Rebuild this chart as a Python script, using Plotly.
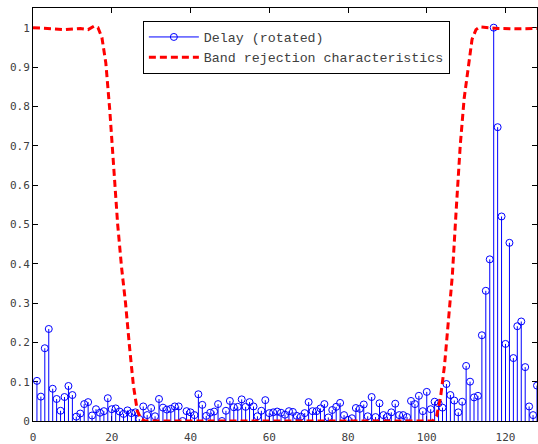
import plotly.graph_objects as go

# ---- data ----
delay_x = list(range(1, 129))
delay_y = [
    0.102, 0.062, 0.185, 0.234, 0.082, 0.056, 0.026, 0.061, 0.089, 0.066,
    0.011, 0.019, 0.043, 0.048, 0.014, 0.030, 0.021, 0.025, 0.058, 0.030,
    0.032, 0.024, 0.018, 0.027, 0.020, 0.022, 0.005, 0.037, 0.015, 0.033,
    0.012, 0.056, 0.034, 0.029, 0.031, 0.037, 0.037, 0.000, 0.025, 0.022,
    0.015, 0.068, 0.041, 0.013, 0.021, 0.024, 0.043, 0.000, 0.026, 0.051,
    0.035, 0.036, 0.055, 0.036, 0.048, 0.037, 0.012, 0.026, 0.053, 0.020,
    0.022, 0.024, 0.021, 0.016, 0.025, 0.023, 0.013, 0.011, 0.020, 0.048,
    0.025, 0.025, 0.032, 0.043, 0.009, 0.028, 0.036, 0.046, 0.015, 0.003,
    0.007, 0.033, 0.031, 0.042, 0.012, 0.061, 0.010, 0.045, 0.015, 0.011,
    0.022, 0.044, 0.015, 0.015, 0.010, 0.051, 0.043, 0.064, 0.025, 0.074,
    0.030, 0.049, 0.045, 0.034, 0.094, 0.066, 0.052, 0.022, 0.049, 0.140,
    0.100, 0.060, 0.064, 0.218, 0.331, 0.411, 1.000, 0.747, 0.520, 0.196,
    0.453, 0.160, 0.241, 0.253, 0.137, 0.037, 0.015, 0.090,
]

band_x = [0, 4, 8, 12, 14, 15.5, 16.5, 17.5, 18.5, 19.5, 20.5, 21.5, 22.5,
          23.5, 24.5, 25.5, 26.5, 27.5, 28.5, 101.5, 102.5, 103.5, 104.5,
          105.5, 106.5, 107.5, 108.5, 109.5, 110.5, 111.5, 112.5, 113.5,
          118, 123, 128]
band_y = [1.0, 0.997, 0.995, 0.998, 0.995, 1.004, 1.0, 0.975, 0.91, 0.79,
          0.63, 0.5, 0.39, 0.3, 0.19, 0.09, 0.025, 0.005, 0.0, 0.0, 0.012,
          0.06, 0.14, 0.25, 0.37, 0.54, 0.70, 0.82, 0.90, 0.97, 0.995,
          1.002, 0.998, 0.997, 0.998]

x_ticks = [0, 20, 40, 60, 80, 100, 120]
y_ticks = [0, 0.1, 0.2, 0.3, 0.4, 0.5, 0.6, 0.7, 0.8, 0.9, 1]
y_ticktext = ["0", "0.1", "0.2", "0.3", "0.4", "0.5", "0.6", "0.7", "0.8", "0.9", "1"]

BLUE = "rgb(0,0,255)"
RED = "rgb(255,0,0)"

# stems built from the data
stem_x, stem_y = [], []
for xv, yv in zip(delay_x, delay_y):
    stem_x += [xv, xv, None]
    stem_y += [0, yv, None]

fig = go.Figure()
fig.add_trace(go.Scatter(x=stem_x, y=stem_y, mode="lines",
                         line=dict(color=BLUE, width=1), showlegend=False,
                         hoverinfo="skip"))
fig.add_trace(go.Scatter(x=delay_x, y=delay_y, mode="markers",
                         marker=dict(symbol="circle-open", size=7, color=BLUE,
                                     line=dict(width=1, color=BLUE)),
                         showlegend=False))
# legend entry for the stem series
fig.add_trace(go.Scatter(x=[None], y=[None], mode="lines+markers",
                         name="Delay (rotated)",
                         line=dict(color=BLUE, width=1),
                         marker=dict(symbol="circle-open", size=7, color=BLUE,
                                     line=dict(width=1, color=BLUE))))
fig.add_trace(go.Scatter(x=band_x, y=band_y, mode="lines",
                         name="Band rejection characteristics",
                         line=dict(color=RED, width=3, dash="7px,4px")))

tickfont = dict(family="DejaVu Sans Mono", size=11, color="#404040")
fig.update_layout(
    width=538, height=444,
    margin=dict(l=33, r=1, t=8, b=23),
    paper_bgcolor="white", plot_bgcolor="white",
    xaxis=dict(range=[0, 128], tickvals=x_ticks, ticks="inside", ticklen=5,
               tickcolor="black", showline=True, linecolor="black", linewidth=1,
               mirror="ticks", showgrid=False, zeroline=False, automargin=False,
               tickfont=tickfont, layer="below traces", ticklabelstandoff=6),
    yaxis=dict(range=[0, 1.05], tickvals=y_ticks, ticktext=y_ticktext,
               ticks="inside", ticklen=5, tickcolor="black", showline=True,
               linecolor="black", linewidth=1, mirror="ticks", showgrid=False,
               zeroline=False, automargin=False, tickfont=tickfont,
               layer="below traces"),
    legend=dict(x=0.218, y=0.969, xanchor="left", yanchor="top",
                bgcolor="white", bordercolor="black", borderwidth=1,
                font=dict(family="Liberation Mono", size=13.3, color="#404040"),
                itemwidth=50, tracegroupgap=0),
)

fig.write_html(
    "out.html",
    config={"displayModeBar": False},
    post_script="document.body.style.margin='0px';document.body.style.padding='0px';",
)
